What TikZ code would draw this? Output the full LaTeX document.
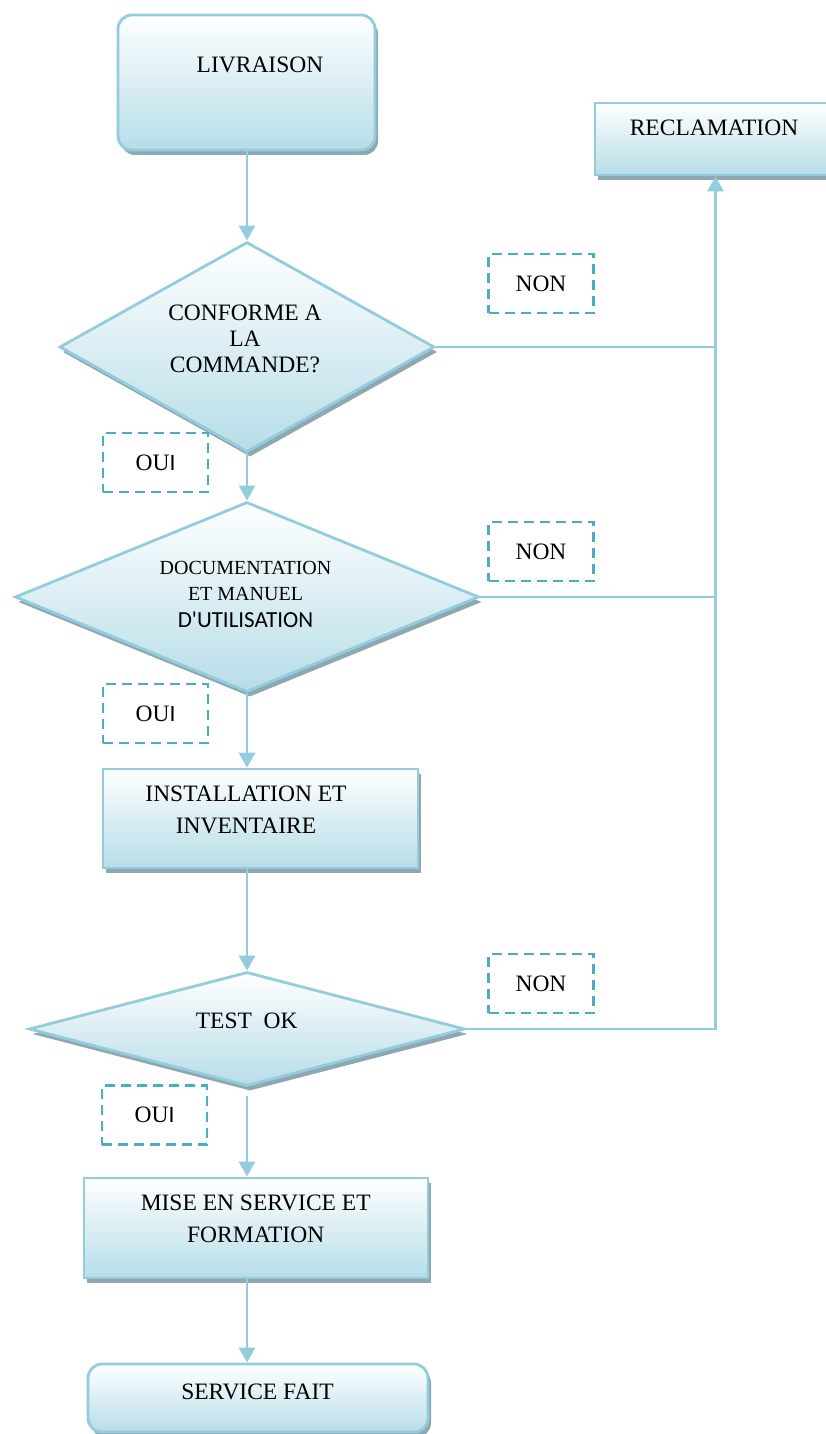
\documentclass[tikz,border=0pt]{standalone}
\usepackage{fontspec}
\setmainfont{Liberation Serif}
\newfontfamily\calfont{Carlito}
\usetikzlibrary{arrows.meta,shapes.geometric,shadows}
\definecolor{boxline}{HTML}{93CDDD}
\definecolor{boxfill}{HTML}{B7DDE8}
\definecolor{shadowgrey}{HTML}{8FA7B0}
\definecolor{dashline}{HTML}{4BACC6}
\tikzset{
  boxshadow/.style={drop shadow={shadow xshift=3pt,shadow yshift=-5pt,fill=shadowgrey,opacity=1}},
  termbox/.style={rectangle,rounded corners=14pt,draw=boxline,line width=2.8pt,top color=white,bottom color=boxfill,boxshadow},
  procbox/.style={rectangle,draw=boxline,line width=2.8pt,top color=white,bottom color=boxfill,boxshadow},
  decision/.style={diamond,draw=boxline,line width=2.8pt,top color=white,bottom color=boxfill,inner sep=0pt,boxshadow},
  boxtext/.style={align=center,inner sep=0pt,font=\fontsize{23.5}{32}\selectfont},
  answer/.style={rectangle,draw=dashline,line width=2.8pt,dash pattern=on 10pt off 6pt,minimum width=105pt,minimum height=59pt,font=\fontsize{23.5}{28}\selectfont},
  arrow/.style={-{Triangle[length=15pt,width=16pt]},line width=2.8pt,draw=boxline},
  link/.style={line width=2.8pt,draw=boxline}
}

\begin{document}
\begin{tikzpicture}[x=1pt,y=-1pt]
  \useasboundingbox (0,0) rectangle (826,1434);

  \node[termbox,minimum width=257pt,minimum height=135pt] (livraison) at (246.5,82.5) {};
  \node[boxtext] (livraison-lbl) at (260,65) {LIVRAISON};
  \node[procbox,minimum width=241pt,minimum height=72pt] (reclam) at (715.5,139) {};
  \node[boxtext] (reclam-lbl) at (714,128) {RECLAMATION};

  \node[decision,minimum width=375pt,minimum height=210pt] (d1) at (247,347) {};
  \node[boxtext,font=\fontsize{23.5}{26}\selectfont] (d1-lbl) at (245,339) {CONFORME A\\LA\\COMMANDE?};
  \node[decision,minimum width=464pt,minimum height=190pt] (d2) at (247,597) {};
  \node[boxtext,font=\fontsize{20}{26.5}\selectfont] (d2-lbl) at (245.5,594.4) {DOCUMENTATION\\ET MANUEL\\{\calfont\fontsize{23}{26.5}\selectfont D\textquotesingle UTILISATION}};

  \node[procbox,minimum width=315pt,minimum height=99pt] (install) at (260.5,818.5) {};
  \node[boxtext] (install-lbl) at (246,810) {INSTALLATION ET\\INVENTAIRE};

  \node[decision,minimum width=436pt,minimum height=114pt] (d3) at (247,1029) {};
  \node[boxtext] (d3-lbl) at (246.7,1021) {TEST\ \ OK};

  \node[procbox,minimum width=344pt,minimum height=100pt] (mise) at (256,1228) {};
  \node[boxtext] (mise-lbl) at (255.7,1219) {MISE EN SERVICE ET\\FORMATION};
  \node[termbox,minimum width=340pt,minimum height=68pt] (fait) at (258,1398) {};
  \node[boxtext] (fait-lbl) at (257.5,1391.5) {SERVICE FAIT};

  \node[answer] (non1) at (541,283.5) {NON};
  \node[answer] (oui1) at (155.5,462.5) {OU{\calfont I}};
  \node[answer] (non2) at (541,551.5) {NON};
  \node[answer] (oui2) at (155.5,713.5) {OU{\calfont I}};
  \node[answer] (non3) at (541,983.5) {NON};
  \node[answer] (oui3) at (154.5,1115) {OU{\calfont I}};

  \draw[arrow] (d1.north |- livraison.south) -- (d1.north);
  \draw[arrow] (d1.south) -- (d2.north);
  \draw[arrow] (d2.south) -- (d2.south |- install.north);
  \draw[arrow] (d3.north |- install.south) -- (d3.north);
  \draw[arrow,shorten <=9pt] (d3.south) -- (d3.south |- mise.north);
  \draw[arrow] (d3.south |- mise.south) -- (d3.south |- fait.north);
  \draw[link] (d1.east) -- (d1.east -| reclam.south);
  \draw[link] (d2.east) -- (d2.east -| reclam.south);
  \draw[arrow] (d3.east) -| (reclam.south);
\end{tikzpicture}
\end{document}
